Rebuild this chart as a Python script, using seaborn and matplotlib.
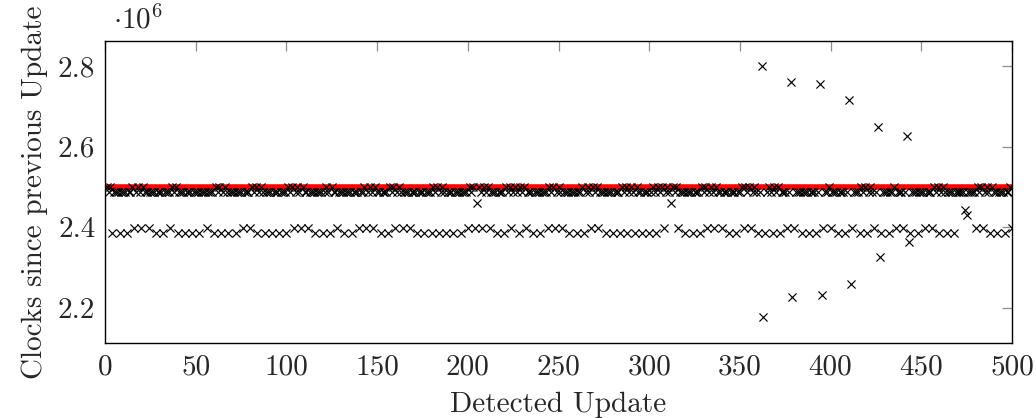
import numpy as np
import pandas as pd
import matplotlib
matplotlib.use("Agg")
import matplotlib.pyplot as plt
from matplotlib.ticker import FuncFormatter
import seaborn as sns

# One character per detected update (updates 1..500, groups of four):
#   a = regular interval, b = slightly long interval,
#   l / h = short intervals (lower cluster), x = irregular interval
update_codes = [
    "babl aaal aaal aabh abah",
    "baah aaal aaal aaah babl",
    "aaal aaal aaal aaah aaal",
    "babl abal aaal aaah aaah",
    "babl abal aaal aaal aaal",
    "babh abah baah aaal aaal",
    "abal baah aaal aaal aaah",
    "aabh abah baal aaal babh",
    "abah aaah aaal aaal aaal",
    "babl abal aaal aaal aaah",
    "babh xbah babh aaal aaal",
    "babh abal babh aaal aaal",
    "aaah babh abah aaal aaal",
    "aabl abah babh aaal aaal",
    "aaal babl abal baal aaal",
    "abal babh abax babh aaal",
    "aaal aaal babh abah baah",
    "aaal aaal aabh babh abal",
    "axxl abal babl aaah axxh",
    "aaal aaal aaal axxh aabh",
    "aaal aaal axxh aaal babl",
    "abah axxl aaal aabh aaah",
    "axxl aaal aaah aaah babl",
    "abal aaal aaaa axxa aaah",
    "babh abal baal aaal aabh",
]

# Clock counts for the recurring interval classes
level_clocks = {"a": 2.487e6, "b": 2.500e6, "l": 2.3855e6, "h": 2.399e6}

# Clock counts of the irregular intervals, in order of appearance
irregular_clocks = [
    2.459e6, 2.459e6,
    2.801e6, 2.177e6, 2.760e6, 2.227e6, 2.755e6, 2.231e6,
    2.716e6, 2.260e6, 2.648e6, 2.326e6, 2.626e6, 2.364e6,
    2.443e6, 2.431e6,
]

nominal_clocks = 2.5e6

x_ticks = [0, 50, 100, 150, 200, 250, 300, 350, 400, 450, 500]
y_ticks = [2.2e6, 2.4e6, 2.6e6, 2.8e6]

# ---- assemble the table -------------------------------------------------
codes = "".join(update_codes).replace(" ", "")
assert len(codes) == 500
irregular_iter = iter(irregular_clocks)
clocks = [next(irregular_iter) if c == "x" else level_clocks[c] for c in codes]
df = pd.DataFrame({"update": np.arange(1, len(codes) + 1), "clocks": clocks})

# ---- styling -----------------------------------------------------------
FS = 21
sns.set_style("white")
plt.rcParams["font.family"] = ["cmr10", "DejaVu Serif"]
plt.rcParams["mathtext.fontset"] = "cm"
plt.rcParams["axes.formatter.use_mathtext"] = True
plt.rcParams["font.size"] = FS

fig = plt.figure(figsize=(10.36, 4.18), dpi=100)
ax = fig.add_axes([0.1014, 0.1794, 0.8754, 0.7225])

ax.axhline(nominal_clocks, color="#ff0000", linewidth=4.0, zorder=2)
sns.scatterplot(data=df, x="update", y="clocks", marker="x", color="black",
                s=34, linewidth=0.85, ax=ax, zorder=3, legend=False)

ax.set_xlim(0, 500)
ax.set_ylim(2.113e6, 2.862e6)
ax.set_xticks(x_ticks)
ax.set_yticks(y_ticks)
ax.yaxis.set_major_formatter(FuncFormatter(lambda v, _: f"{v / 1e6:.1f}"))
ax.xaxis.set_major_formatter(FuncFormatter(lambda v, _: f"{v:.0f}"))

ax.tick_params(axis="both", which="major", direction="in", length=7.5,
               width=0.9, color="#8c8c8c", top=True, right=True,
               labelsize=FS)
ax.tick_params(axis="x", pad=8)
ax.tick_params(axis="y", pad=7)
for spine in ax.spines.values():
    spine.set_visible(True)
    spine.set_color("black")
    spine.set_linewidth(1.0)

ax.set_xlabel("Detected Update", fontsize=FS, labelpad=8)
ax.set_ylabel("Clocks since previous Update", fontsize=FS, labelpad=7)
ax.text(0.009, 1.02, r"$\cdot 10^{6}$", transform=ax.transAxes,
        ha="left", va="bottom", fontsize=FS)

fig.savefig("out.png", dpi=100)
